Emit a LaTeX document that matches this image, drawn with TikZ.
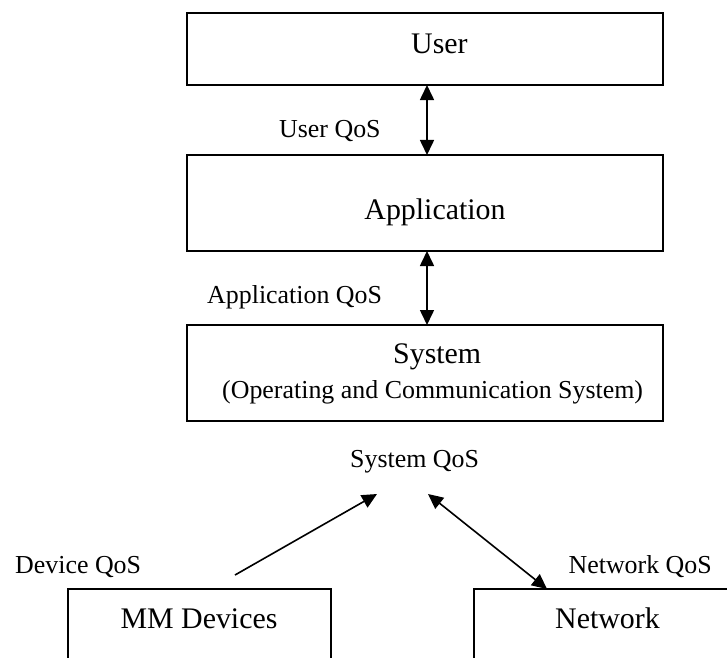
\documentclass[tikz,border=0pt]{standalone}
\usepackage{fontspec}
\setmainfont{Liberation Serif}
\usetikzlibrary{arrows.meta}
\begin{document}
\begin{tikzpicture}[x=1bp,y=-1bp,
  box/.style={draw,line width=1.8bp,inner sep=0pt,outer sep=0pt},
  big/.style={inner sep=0pt,font=\fontsize{30}{36}\selectfont},
  small/.style={inner sep=0pt,font=\fontsize{26}{31}\selectfont},
  conn/.style={line width=1.6bp,{Triangle[length=15bp,width=14bp]}-{Triangle[length=15bp,width=14bp]}},
  oneway/.style={line width=1.6bp,-{Triangle[length=15bp,width=14bp]}}]
\useasboundingbox (0,0) rectangle (727,658);
% boxes
\node[box,minimum width=476bp,minimum height=72bp] (user) at (425,49) {};
\node[box,minimum width=476bp,minimum height=96bp] (app) at (425,203) {};
\node[box,minimum width=476bp,minimum height=96bp] (sys) at (425,373) {};
\node[box,minimum width=263bp,minimum height=111bp] (mm) at (199.5,644.5) {};
\node[box,minimum width=286bp,minimum height=111bp] (net) at (617,644.5) {};
% box texts
\node[big,anchor=base west] (tuser) at (411,54) {User};
\node[big,anchor=base] (tapp) at (435,219) {Application};
\node[big,anchor=base west] (tsys) at (393,363) {System};
\node[small,anchor=base west] (tsys2) at (222,398) {(Operating and Communication System)};
\node[big,anchor=base] (tmm) at (199,628) {MM Devices};
\node[big,anchor=base east] (tnet) at (660,628) {Network};
% QoS labels
\node[small,anchor=base west] (luser) at (279,138) {User QoS};
\node[small,anchor=base west] (lapp) at (207,303) {Application QoS};
\node[small,anchor=base west] (lsys) at (350,467) {System QoS};
\node[small,anchor=base west] (ldev) at (15,573) {Device QoS};
\node[small,anchor=base east] (lnet) at (712,573) {Network QoS};
% connectors
\coordinate (vx) at (427,0);
\draw[conn] (user.south -| vx) -- (app.north -| vx);
\draw[conn] (app.south -| vx) -- (sys.north -| vx);
\coordinate (dstart) at (235,575);
\coordinate (dtip) at (377,494);
\draw[oneway] (dstart) -- (dtip);
\coordinate (ntip) at (428,494);
\coordinate (nx) at (547,0);
\draw[conn] (ntip) -- (net.north -| nx);
\end{tikzpicture}
\end{document}
